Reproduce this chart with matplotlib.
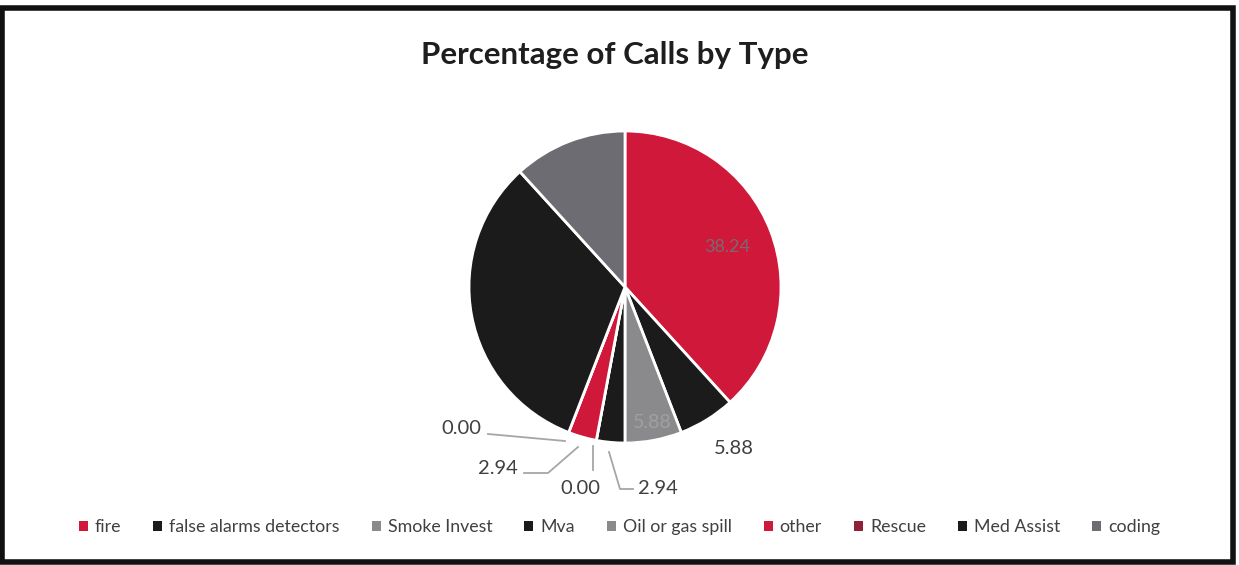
import matplotlib.pyplot as plt
from matplotlib.patches import Rectangle

call_types = ["fire", "false alarms detectors", "Smoke Invest", "Mva", "Oil or gas spill",
              "other", "Rescue", "Med Assist", "coding"]
percentages = [38.24, 5.88, 5.88, 2.94, 0.00, 2.94, 0.00, 32.35, 11.76]
colors = ["#d0183a", "#1b1b1b", "#8a8a8c", "#1b1b1b", "#8a8a8c",
          "#d0183a", "#8e2236", "#1b1b1b", "#6c6c72"]

plt.rcParams["font.family"] = ["Lato", "DejaVu Sans"]

W, H = 1239, 565
fig = plt.figure(figsize=(W / 100, H / 100), dpi=100)
fig.patch.set_facecolor("white")

# pie centre / radius in pixels
cx, cy, r = 625, 287, 156
ax = fig.add_axes([0, 0, 1, 1])
ax.axis("off")

wedges, _ = ax.pie(percentages, colors=colors, startangle=90, counterclock=False,
                   radius=1, wedgeprops=dict(edgecolor="white", linewidth=2))
ax.set_aspect("auto")
ax.set_xlim(-cx / r, (W - cx) / r)
ax.set_ylim(-(H - cy) / r, cy / r)


def px(x, y):
    return ((x - cx) / r, (cy - y) / r)


# labels inside wedges
ax.text(*px(727, 247), f"{percentages[0]:.2f}", color="#7a6a70", fontsize=13,
        ha="center", va="center")
ax.text(*px(652, 423), f"{percentages[2]:.2f}", color="#a0a0a0", fontsize=14,
        ha="center", va="center")

# labels outside with leader lines
outside = [
    (1, None, (734, 449)),
    (3, [(609, 452), (620, 489), (633, 489)], (658, 489)),
    (4, [(593, 446), (593, 470)], (580, 488)),
    (5, [(578, 447), (548, 473), (524, 473)], (498, 469)),
    (6, [(565, 441), (488, 434)], (461, 428)),
]
for i, leader, pos in outside:
    if leader:
        xs, ys = zip(*[px(x, y) for x, y in leader])
        ax.plot(xs, ys, color="#a6a6a6", lw=1.3)
    ax.text(*px(*pos), f"{percentages[i]:.2f}", color="#404040", fontsize=14.5,
            ha="center", va="center")

fig.text(0.496, 1 - 55 / H, "Percentage of Calls by Type", fontsize=22.5,
         fontweight="bold", color="#1e1e1e", ha="center", va="center")

leg = fig.legend(wedges, call_types, loc="center", bbox_to_anchor=(0.5, 1 - 527 / H),
                 ncol=9, frameon=False, fontsize=12.8, handlelength=0.5,
                 handleheight=0.5, handletextpad=0.4, columnspacing=1.8)
for t in leg.get_texts():
    t.set_color("#404040")
for h in leg.legend_handles:
    h.set_edgecolor("none")

fig.patches.append(Rectangle((0.002, 0.006), 0.993, 0.98, transform=fig.transFigure,
                             fill=False, edgecolor="#111111", linewidth=4))

fig.savefig("out.png", dpi=100)
